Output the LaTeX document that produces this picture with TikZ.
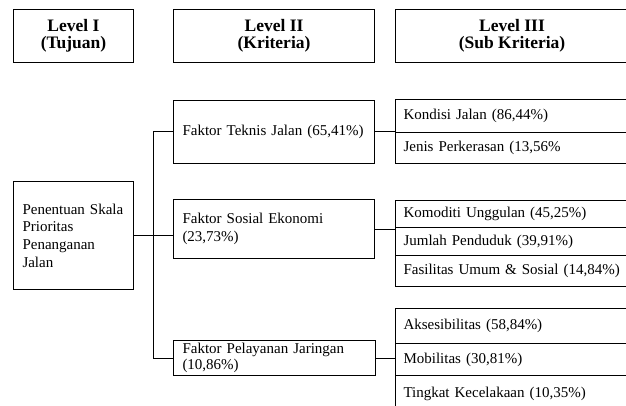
\documentclass[tikz,border=0pt]{standalone}
\usepackage{fontspec}
\setmainfont{Liberation Serif}[BoldFont={Liberation Serif Bold}]
\newcommand\myBodyFont{\fontsize{15}{17.7}\selectfont}
\newcommand\myHdrFont{\fontsize{17.5}{17}\selectfont\bfseries}
\tikzset{
  base/.style={draw, line width=1pt, rectangle, anchor=north west, inner ysep=0pt, font=\myBodyFont},
  hdr/.style={base, align=center, font=\myHdrFont},
  conn/.style={line width=1pt},
}
\begin{document}
\begin{tikzpicture}[x=1pt,y=-1pt]
\clip (0,0) rectangle (626,406);
% headers
\node[hdr, minimum width=120pt, minimum height=53pt] (h1) at (13,9) {Level I\\(Tujuan)};
\node[hdr, minimum width=201pt, minimum height=53pt] (h2) at (173,9) {Level II\\(Kriteria)};
\node[hdr, minimum width=233pt, minimum height=53pt] (h3) at (395,9) {Level III\\(Sub Kriteria)};
% level I
\node[base, align=left, inner xsep=9pt, text width=102pt, minimum height=108pt] (pen) at (13,181)
  {Penentuan Skala\\Prioritas\\Penanganan\\Jalan};
% level II
\node[base, align=left, inner xsep=9pt, text width=183pt, minimum height=63pt] (tek) at (173,100)
  {Faktor Teknis Jalan (65,41\%)};
\node[base, align=left, inner xsep=9pt, text width=183pt, minimum height=59pt] (sos) at (173,199)
  {Faktor Sosial Ekonomi\\(23,73\%)};
\node[base, align=left, inner xsep=9pt, text width=184pt, minimum height=35pt] (pel) at (173,340)
  {Faktor Pelayanan Jaringan\\[-1.5pt](10,86\%)};
% level III
\node[base, align=left, inner xsep=8pt, text width=217pt, minimum height=33pt] (kon) at (395,99) {Kondisi Jalan (86,44\%)};
\node[base, align=left, inner xsep=8pt, text width=217pt, minimum height=31pt] (jen) at (395,132) {Jenis Perkerasan (13,56\%};
\node[base, align=left, inner xsep=8pt, text width=217pt, minimum height=27pt] (kom) at (395,200) {Komoditi Unggulan (45,25\%)};
\node[base, align=left, inner xsep=8pt, text width=217pt, minimum height=28pt] (jum) at (395,227) {Jumlah Penduduk (39,91\%)};
\node[base, align=left, inner xsep=8pt, text width=217pt, minimum height=31pt] (fas) at (395,255) {Fasilitas Umum \& Sosial (14,84\%)};
\node[base, align=left, inner xsep=8pt, text width=217pt, minimum height=35pt] (aks) at (395,308) {Aksesibilitas (58,84\%)};
\node[base, align=left, inner xsep=8pt, text width=217pt, minimum height=32pt] (mob) at (395,343) {Mobilitas (30,81\%)};
\node[base, align=left, inner xsep=8pt, text width=217pt, minimum height=37pt] (tin) at (395,375) {Tingkat Kecelakaan (10,35\%)};
% connectors
\coordinate (trunk) at (153,0);
\draw[conn] (pen.east) -- (pen.east -| sos.west);
\draw[conn] (tek.west) -- (tek.west -| trunk) |- (pel.west);
\draw[conn] (tek.east) -- (tek.east -| kon.west);
\draw[conn] (sos.east) -- (sos.east -| kom.west);
\draw[conn] (pel.east) -- (pel.east -| mob.west);
\end{tikzpicture}
\end{document}
